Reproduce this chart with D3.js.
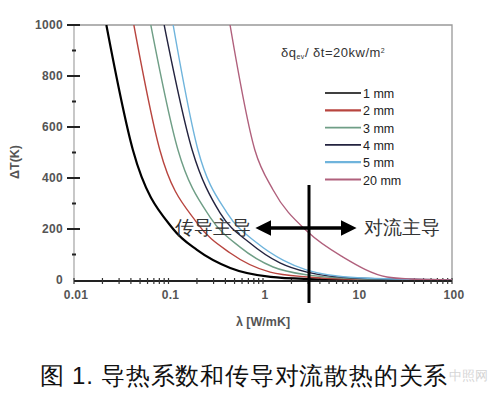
<!DOCTYPE html>
<html>
<head>
<meta charset="utf-8">
<script src="https://cdn.jsdelivr.net/npm/d3@7"></script>
<style>
  body { margin: 0; background: #fff; }
  svg text { font-family: "Liberation Sans", Arial, sans-serif; }
</style>
</head>
<body>
<div id="chart"></div>
<script>
// curves: lambda [W/mK] and dT [K]
var seriesNames = ['1 mm', '2 mm', '3 mm', '4 mm', '5 mm', '20 mm'];
var seriesColors = ['#000000', '#b8453f', '#6f9e86', '#23233f', '#6fb4dc', '#b0607c'];
var lambda1 = [0.022, 0.042, 0.112, 0.2, 0.45, 1.2, 2.9, 10, 100];
var dT1 = [1000, 510, 200, 118, 47, 12, 4, 1, 0];
var lambda2 = [0.043, 0.081, 0.2, 0.45, 1.19, 2.92, 10, 100];
var dT2 = [1000, 510, 224, 106, 31, 12, 3, 0];
var lambda3 = [0.065, 0.126, 0.275, 0.572, 1.28, 2.92, 10, 100];
var dT3 = [1000, 510, 247, 129, 51, 20, 5, 0];
var lambda4 = [0.09, 0.178, 0.351, 0.728, 1.51, 2.92, 10, 100];
var dT4 = [1000, 510, 263, 145, 67, 31, 7, 0];
var lambda5 = [0.112, 0.205, 0.416, 0.865, 1.63, 2.92, 10, 100];
var dT5 = [1000, 510, 263, 145, 78, 39, 9, 0];
var lambda20 = [0.448, 0.82, 1.28, 2.99, 7.03, 20.5, 36, 100];
var dT20 = [1000, 510, 353, 188, 90, 12, 4, 0];
var lambdas = [lambda1, lambda2, lambda3, lambda4, lambda5, lambda20];
var dTs = [dT1, dT2, dT3, dT4, dT5, dT20];

var xTicks = [0.01, 0.1, 1, 10, 100];
var yTicks = [0, 200, 400, 600, 800, 1000];
var yMinor = [100, 300, 500, 700, 900];

var width = 500, height = 399;
var plotL = 74, plotR = 452, plotT = 25, plotB = 280;

var svg = d3.select('#chart').append('svg')
  .attr('width', width)
  .attr('height', height);

var x = d3.scaleLog().domain([0.01, 100]).range([plotL, plotR]);
var y = d3.scaleLinear().domain([0, 1000]).range([plotB, plotT]);

svg.append('clipPath').attr('id', 'clip')
  .append('rect')
  .attr('x', plotL).attr('y', plotT)
  .attr('width', plotR - plotL).attr('height', plotB - plotT);

// frame (top + right)
svg.append('path')
  .attr('d', 'M' + plotL + ',' + plotT + 'H' + plotR + 'V' + plotB)
  .attr('fill', 'none')
  .attr('stroke', '#999')
  .attr('stroke-width', 1.3);

// y axis
svg.append('line')
  .attr('x1', plotL).attr('x2', plotL)
  .attr('y1', plotT).attr('y2', plotB)
  .attr('stroke', '#aaa').attr('stroke-width', 1.3);
svg.selectAll('.ymaj').data(yTicks.slice(1)).enter().append('line')
  .attr('x1', plotL - 7).attr('x2', plotL + 6)
  .attr('y1', function (d) { return y(d); })
  .attr('y2', function (d) { return y(d); })
  .attr('stroke', '#222').attr('stroke-width', 2);
svg.selectAll('.ymin').data(yMinor).enter().append('line')
  .attr('x1', plotL - 2).attr('x2', plotL + 2)
  .attr('y1', function (d) { return y(d); })
  .attr('y2', function (d) { return y(d); })
  .attr('stroke', '#222').attr('stroke-width', 2);
svg.selectAll('.ylab').data(yTicks).enter().append('text')
  .attr('x', plotL - 11)
  .attr('y', function (d) { return y(d) + 4; })
  .attr('text-anchor', 'end')
  .attr('font-size', 12)
  .attr('font-weight', 'bold')
  .attr('letter-spacing', 0.3)
  .attr('fill', '#555')
  .text(function (d) { return d; });

// x axis
var xAll = [];
[0.01, 0.1, 1, 10].forEach(function (dec) {
  for (var k = 1; k < 10; k++) xAll.push(dec * k);
});
xAll.push(100);
svg.append('line')
  .attr('x1', plotL).attr('x2', plotR)
  .attr('y1', plotB + 1).attr('y2', plotB + 1)
  .attr('stroke', '#222').attr('stroke-width', 1.8);
svg.selectAll('.xtick').data(xAll).enter().append('line')
  .attr('x1', function (d) { return x(d); })
  .attr('x2', function (d) { return x(d); })
  .attr('y1', plotB - 2).attr('y2', plotB + 4)
  .attr('stroke', '#333').attr('stroke-width', 1.2);
svg.selectAll('.xlab').data(xTicks).enter().append('text')
  .attr('x', function (d) { return x(d) + 2; })
  .attr('y', plotB + 19)
  .attr('text-anchor', 'middle')
  .attr('font-size', 12)
  .attr('font-weight', 'bold')
  .attr('letter-spacing', 0.3)
  .attr('fill', '#555')
  .text(function (d) { return d; });

svg.append('text')
  .attr('x', 263).attr('y', 326)
  .attr('text-anchor', 'middle')
  .attr('font-size', 12.5)
  .attr('font-weight', 'bold')
  .attr('fill', '#555')
  .text('λ [W/mK]');
svg.append('text')
  .attr('transform', 'translate(19,162) rotate(-90)')
  .attr('text-anchor', 'middle')
  .attr('font-size', 12.5)
  .attr('font-weight', 'bold')
  .attr('fill', '#555')
  .text('ΔT(K)');

// curves
var line = d3.line()
  .x(function (d) { return x(d[0]); })
  .y(function (d) { return y(d[1]); })
  .curve(d3.curveMonotoneX);

svg.append('g').attr('clip-path', 'url(#clip)')
  .selectAll('path')
  .data(seriesNames)
  .enter().append('path')
  .attr('d', function (d, i) { return line(d3.zip(lambdas[i], dTs[i])); })
  .attr('fill', 'none')
  .attr('stroke', function (d, i) { return seriesColors[i]; })
  .attr('stroke-width', function (d, i) { return i === 0 ? 2.2 : 1.4; });

// legend
svg.append('text')
  .attr('x', 281).attr('y', 57)
  .attr('font-size', 13)
  .attr('letter-spacing', 0.5)
  .attr('fill', '#333')
  .html('δq<tspan font-size="7" dy="2">ev</tspan><tspan dy="-2">/ δt=20kw/m</tspan><tspan font-size="7" dy="-4">2</tspan>');

var leg = svg.selectAll('.leg').data(seriesNames).enter().append('g')
  .attr('transform', function (d, i) { return 'translate(325,' + (93 + i * 17.3) + ')'; });
leg.append('line')
  .attr('x1', 0).attr('x2', 36)
  .attr('stroke', function (d, i) { return seriesColors[i]; })
  .attr('stroke-width', function (d, i) { return i === 1 || i === 4 || i === 5 ? 2.2 : 1.6; });
leg.append('text')
  .attr('x', 38).attr('y', 5)
  .attr('font-size', 12.5)
  .attr('fill', '#222')
  .text(function (d) { return d; });

// regime divider and arrows
svg.append('defs').append('marker')
  .attr('id', 'arrow')
  .attr('viewBox', '0 0 10 10')
  .attr('refX', 2).attr('refY', 5)
  .attr('markerWidth', 4.5).attr('markerHeight', 4.5)
  .attr('orient', 'auto-start-reverse')
  .append('path')
  .attr('d', 'M0,0L10,5L0,10Z')
  .attr('fill', '#000');

svg.append('line')
  .attr('x1', 309).attr('x2', 309)
  .attr('y1', 185).attr('y2', 303)
  .attr('stroke', '#000').attr('stroke-width', 3);
svg.append('line')
  .attr('x1', 268).attr('x2', 344)
  .attr('y1', 228).attr('y2', 228)
  .attr('stroke', '#000').attr('stroke-width', 3.5)
  .attr('marker-start', 'url(#arrow)')
  .attr('marker-end', 'url(#arrow)');

svg.append('text')
  .attr('x', 213).attr('y', 234)
  .attr('text-anchor', 'middle')
  .attr('font-family', '"Noto Sans CJK SC", sans-serif')
  .attr('font-size', 18.5)
  .attr('fill', '#333')
  .text('传导主导');
svg.append('text')
  .attr('x', 402).attr('y', 234)
  .attr('text-anchor', 'middle')
  .attr('font-family', '"Noto Sans CJK SC", sans-serif')
  .attr('font-size', 18.5)
  .attr('fill', '#333')
  .text('对流主导');

// caption
svg.append('text')
  .attr('x', 244).attr('y', 384)
  .attr('text-anchor', 'middle')
  .attr('font-family', '"Noto Sans CJK SC", sans-serif')
  .attr('font-size', 24)
  .attr('letter-spacing', 0.8)
  .attr('fill', '#111')
  .text('图 1. 导热系数和传导对流散热的关系');
svg.append('text')
  .attr('x', 468).attr('y', 380)
  .attr('text-anchor', 'middle')
  .attr('font-family', '"Noto Sans CJK SC", sans-serif')
  .attr('font-size', 13)
  .attr('fill', '#ccc')
  .attr('opacity', 0.8)
  .text('中照网');
</script>
</body>
</html>
